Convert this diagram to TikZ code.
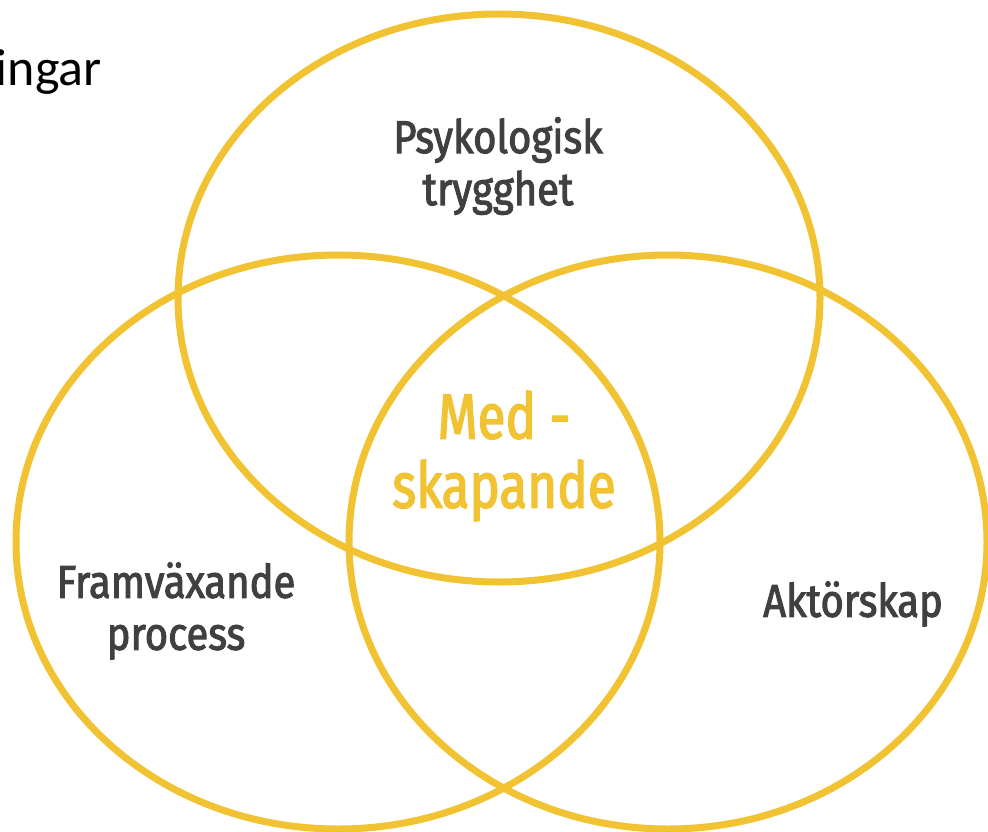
\documentclass[tikz,border=0pt]{standalone}
\usepackage{fontspec}
\setmainfont{Carlito}
\newfontfamily\labelfont{Fira Sans}[FakeStretch=0.87, FakeBold=2.2]
\newfontfamily\corefont{Fira Sans}[FakeStretch=0.8, FakeBold=2.2]
\definecolor{venngold}{HTML}{F1C232}
\definecolor{venntext}{HTML}{404040}

\begin{document}
\begin{tikzpicture}[x=1pt, y=-1pt,
    ring/.style={draw=venngold, line width=7pt},
    lbl/.style={text=venntext, font=\labelfont\fontsize{46}{52}\selectfont, align=center, inner sep=0pt},
    core/.style={text=venngold, font=\corefont\fontsize{64}{69}\selectfont, align=center, inner sep=0pt}]
    \useasboundingbox (0,0) rectangle (988,832);
    % the three circles
    \draw[ring] (499,298) ellipse [x radius=321, y radius=284];
    \draw[ring] (338,542) ellipse [x radius=322, y radius=287];
    \draw[ring] (668,542) ellipse [x radius=319, y radius=287];
    % texts
    \node[anchor=base east, text=black, font=\fontsize{52}{56}\selectfont, inner sep=0pt] (heading) at (102,86) {ingar};
    \node[lbl] (psych) at (498,166) {Psykologisk\\trygghet};
    \node[core] (cocreate) at (504,456) {Med -\\skapande};
    \node[lbl] (emergent) at (176,611) {Framväxande\\process};
    \node[lbl] (agency) at (853,604) {Aktörskap};
\end{tikzpicture}
\end{document}
